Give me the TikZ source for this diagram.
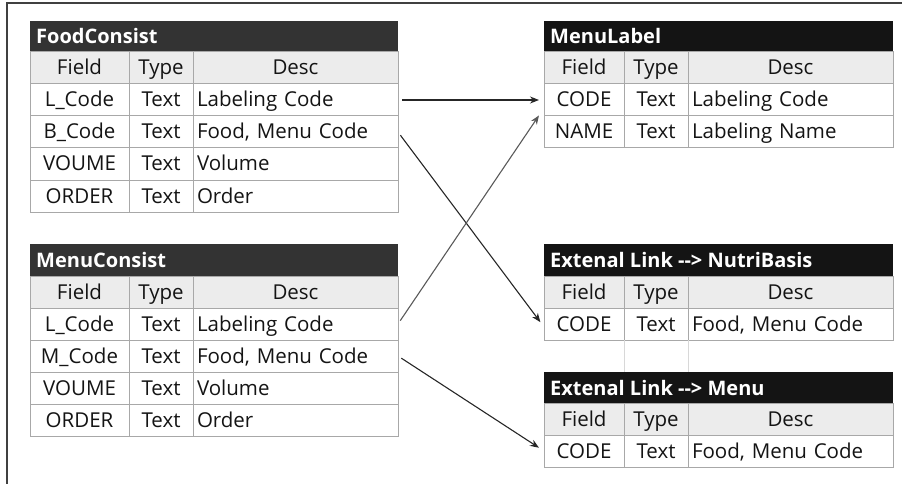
\documentclass[tikz,border=0pt]{standalone}
\usepackage{fontspec}
\setmainfont{Open Sans}
\usetikzlibrary{arrows.meta}

\definecolor{hdrgray}{HTML}{333333}
\definecolor{hdrblack}{HTML}{141414}
\definecolor{fieldbg}{HTML}{ECECEC}
\definecolor{gridgray}{HTML}{A8A8A8}

\tikzset{
  cell/.style={draw=gridgray, line width=1pt, anchor=north west, outer sep=0pt,
    inner sep=0pt, minimum height=32pt, text height=17pt, text depth=3pt,
    font=\fontsize{20.5}{24}\selectfont, text=black!92},
  desccell/.style={cell, inner xsep=4pt, text width=197pt, align=left},
  headcell/.style={cell, fill=fieldbg},
  title/.style={anchor=west, inner sep=0pt, text=white,
    font=\fontsize{20}{24}\selectfont\bfseries},
  conn/.style={-{Stealth[length=9pt,width=7pt]}, line width=1.1pt, draw=black!85},
}

% column header row: #1 prefix, #2 x, #3 y
\newcommand\fieldrow[3]{%
  \node[headcell, minimum width=\colw] (#1-a) at (#2,#3) {Field};
  \node[headcell, minimum width=64pt] (#1-b) at (#1-a.north east) {Type};
  \node[headcell, desccell, fill=fieldbg, align=center] (#1-c) at (#1-b.north east) {Desc};
}
% one record: #1 name, #2 x, #3 y, #4 field, #5 type, #6 desc
\newcommand\datarow[6]{%
  \node[cell, minimum width=\colw] (#1-a) at (#2,#3) {#4};
  \node[cell, minimum width=64pt] (#1-b) at (#1-a.north east) {#5};
  \node[desccell] (#1-c) at (#1-b.north east) {#6};
}

\begin{document}
\begin{tikzpicture}[x=1pt,y=-1pt]
\useasboundingbox (0,0) rectangle (902,484);

% frame
\draw[line width=1.5pt, draw=black!75] (7,484) -- (7,3) -- (902,3);

% FoodConsist
\def\colw{99pt}
\fill[hdrgray] (30,21) rectangle (398,52);
\node[title] (fc) at (36,36.5) {FoodConsist};
\fieldrow{fc-hd}{30}{52}
\datarow{fc-lcode}{30}{84}{L\_Code}{Text}{Labeling Code}
\datarow{fc-bcode}{30}{116}{B\_Code}{Text}{Food, Menu Code}
\datarow{fc-vol}{30}{148}{VOUME}{Text}{Volume}
\datarow{fc-ord}{30}{180}{ORDER}{Text}{Order}

% MenuConsist
\fill[hdrgray] (30,244) rectangle (398,276);
\node[title] (mc) at (36,260) {MenuConsist};
\fieldrow{mc-hd}{30}{276}
\datarow{mc-lcode}{30}{308}{L\_Code}{Text}{Labeling Code}
\datarow{mc-mcode}{30}{340}{M\_Code}{Text}{Food, Menu Code}
\datarow{mc-vol}{30}{372}{VOUME}{Text}{Volume}
\datarow{mc-ord}{30}{404}{ORDER}{Text}{Order}

% MenuLabel
\def\colw{80pt}
\fill[hdrblack] (544,21) rectangle (893,52);
\node[title] (ml) at (550,36.5) {MenuLabel};
\fieldrow{ml-hd}{544}{52}
\datarow{ml-code}{544}{84}{CODE}{Text}{Labeling Code}
\datarow{ml-name}{544}{116}{NAME}{Text}{Labeling Name}

% external links
\fill[hdrblack] (544,244) rectangle (893,276);
\node[title] (nb) at (550,260) {Extenal Link -{}-> NutriBasis};
\fieldrow{nb-hd}{544}{276}
\datarow{nb-code}{544}{308}{CODE}{Text}{Food, Menu Code}

\draw[gridgray!45, line width=1pt] (nb-code-a.south east) -- ++(0,33);
\draw[gridgray!45, line width=1pt] (nb-code-b.south east) -- ++(0,33);

\fill[hdrblack] (544,372) rectangle (893,403);
\node[title] (mn) at (550,387.5) {Extenal Link -{}-> Menu};
\fieldrow{mn-hd}{544}{403}
\datarow{mn-code}{544}{435}{CODE}{Text}{Food, Menu Code}

% links
\draw[conn, shorten <=4pt, shorten >=5pt] (fc-lcode-c.east) -- (ml-code-a.west);
\draw[conn, shorten <=4pt, shorten >=6pt] (fc-bcode-c.east) -- ([yshift=-3pt]nb-code-a.west);
\draw[conn, draw=black!65, shorten <=4pt, shorten >=9pt] (mc-lcode-c.east) -- ([yshift=-8pt]ml-code-a.west);
\draw[conn, shorten <=4pt, shorten >=6pt] (mc-mcode-c.east) -- (mn-code-a.west);

\end{tikzpicture}
\end{document}
